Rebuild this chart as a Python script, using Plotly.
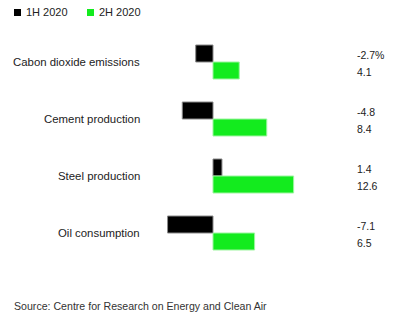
import plotly.graph_objects as go

categories = ["Cabon dioxide emissions", "Cement production", "Steel production", "Oil consumption"]
series_names = ["1H 2020", "2H 2020"]
h1_2020 = [-2.7, -4.8, 1.4, -7.1]
h2_2020 = [4.1, 8.4, 12.6, 6.5]
h1_labels = ["-2.7%", "-4.8", "1.4", "-7.1"]
h2_labels = ["4.1", "8.4", "12.6", "6.5"]

FONT = "Liberation Sans, Arial, sans-serif"
BLACK = "#000000"
GREEN = "#13eb1e"
TEXT = "#222222"

W, H = 400, 324
px_per_unit = 6.4
zero_px = 213
x0 = -zero_px / px_per_unit
x1 = x0 + W / px_per_unit

row_px = 57
first_px = 62
y_top = -first_px / row_px
y_bot = (H - first_px) / row_px

pos = list(range(len(categories)))

fig = go.Figure()
fig.add_trace(go.Bar(
    y=pos, x=h1_2020, orientation="h", name=series_names[0],
    marker=dict(color=BLACK, line=dict(color="#8a8a8a", width=1)),
))
fig.add_trace(go.Bar(
    y=pos, x=h2_2020, orientation="h", name=series_names[1],
    marker=dict(color=GREEN, line=dict(color="#9cf59f", width=1)),
))

# category names on the left, values on the right
off = 8.5 / row_px
nudge = 1.5 / row_px
label_x = (142 - zero_px) / px_per_unit
value_x = (355 - zero_px) / px_per_unit
for i, cat in enumerate(categories):
    fig.add_annotation(x=label_x, y=i, text=cat, showarrow=False, xanchor="right",
                       font=dict(family=FONT, size=11.4, color=TEXT))
    fig.add_annotation(x=value_x, y=i - off + nudge, text=h1_labels[i], showarrow=False,
                       xanchor="left", font=dict(family=FONT, size=10.5, color=TEXT))
    fig.add_annotation(x=value_x, y=i + off + nudge, text=h2_labels[i], showarrow=False,
                       xanchor="left", font=dict(family=FONT, size=10.5, color=TEXT))

# compact legend: small square swatches followed by series names
legend_items = [(series_names[0], BLACK, 14), (series_names[1], GREEN, 87)]
for name, color, left in legend_items:
    fig.add_shape(type="rect", xref="paper", yref="paper",
                  x0=left / W, x1=(left + 7) / W, y0=1 - 16 / H, y1=1 - 9 / H,
                  fillcolor=color, line=dict(width=0))
    fig.add_annotation(x=(left + 10) / W, y=1 - 12.5 / H, xref="paper", yref="paper",
                       text=name, showarrow=False, xanchor="left", yanchor="middle",
                       font=dict(family=FONT, size=11, color=TEXT))

fig.add_annotation(x=12 / W, y=1 - 306 / H, xref="paper", yref="paper",
                   text="Source: Centre for Research on Energy and Clean Air",
                   showarrow=False, xanchor="left", yanchor="middle",
                   font=dict(family=FONT, size=10.6, color="#333"))

fig.update_layout(
    width=W, height=H,
    margin=dict(l=0, r=0, t=0, b=0),
    paper_bgcolor="white", plot_bgcolor="white",
    barmode="group", bargap=0.404, bargroupgap=0,
    font=dict(family=FONT, size=11, color=TEXT),
    showlegend=False,
    xaxis=dict(range=[x0, x1], visible=False, fixedrange=True),
    yaxis=dict(range=[y_bot, y_top], visible=False, fixedrange=True),
)

fig.write_html("out.html")
